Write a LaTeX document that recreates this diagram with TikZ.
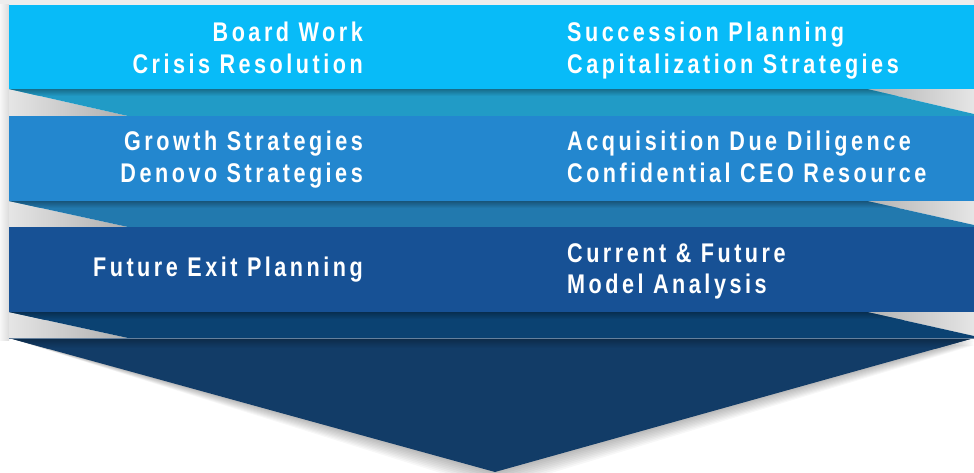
\documentclass[tikz,border=0pt]{standalone}
\usepackage{xcolor}
\usepackage{fontspec}
\usepackage{tikz}
\setmainfont{Liberation Sans}
\newfontfamily\bandfont[FakeStretch=0.8,LetterSpace=13]{Liberation Sans}

\definecolor{bandA}{HTML}{08BBF8}
\definecolor{foldA}{HTML}{219BC6}
\definecolor{bandB}{HTML}{2387CF}
\definecolor{foldB}{HTML}{2279AE}
\definecolor{bandC}{HTML}{175195}
\definecolor{foldC}{HTML}{0B4272}
\definecolor{arrowD}{HTML}{123C67}

\tikzset{
  bandtext/.style={inner sep=0pt, text=white,
    font=\bandfont\bfseries\fontsize{27}{31.5}\selectfont},
  lefttext/.style={bandtext, anchor=north east, align=right},
  righttext/.style={bandtext, anchor=north west, align=left},
  greyshade/.style={left color=black!10, right color=black!32}
}

\begin{document}
\begin{tikzpicture}[x=1pt,y=-1pt]
  \fill[white] (0,0) rectangle (974,473);
  \useasboundingbox (0,0) rectangle (974,473);

  % Background shadows
  \fill[black!7] (0,0) rectangle (974,5);
  \shade[left color=black!3, right color=black!14] (0,5) rectangle (9,340);
  \foreach \ya/\yb in {89/116, 201/227, 312/338} {
    \shade[greyshade] (9,\ya) -- (128,\yb) -- (9,\yb) -- cycle;
    \shade[right color=black!10, left color=black!30] (867,\ya) -- (974,\ya) -- (974,\yb-2) -- cycle;
  }

  % Folds
  \foreach \ya/\yb/\c in {89/116/foldA, 201/227/foldB, 312/338/foldC} {
    \begin{scope}
      \clip (9,\ya) -- (867,\ya) -- (974,\yb-2) -- (974,\yb) -- (128,\yb) -- cycle;
      \fill[\c] (0,\ya) rectangle (974,\yb);
      \shade[top color=\c!70!black, bottom color=\c] (0,\ya) rectangle (974,\ya+7);
    \end{scope}
  }

  % Bands
  \fill[bandA] (9,5) rectangle (974,89);
  \fill[bandB] (9,116) rectangle (974,201);
  \fill[bandC] (9,227) rectangle (974,312);

  % Arrow
  \foreach \d in {2,4,...,18}
    \fill[black, opacity=0.03] (9,338) -- (974,338+\d*0.4) -- (495,472+\d) -- cycle;
  \begin{scope}
    \clip (9,338) -- (974,338) -- (495,472) -- cycle;
    \fill[arrowD] (0,338) rectangle (974,473);
    \shade[top color=arrowD!70!black, bottom color=arrowD] (0,338) rectangle (974,348);
  \end{scope}
  \draw[arrowD!65!white, line width=0.6pt] (9,338) -- (974,338);

  % Texts
  \node[lefttext] (board) at (363,22) {Board Work\\Crisis Resolution};
  \node[righttext] (succession) at (567,22) {Succession Planning\\Capitalization Strategies};
  \node[lefttext] (growth) at (363,131) {Growth Strategies\\Denovo Strategies};
  \node[righttext] (acquisition) at (567,131) {Acquisition Due Diligence\\Confidential CEO Resource};
  \node[lefttext] (exit) at (363,257) {Future Exit Planning};
  \node[righttext] (model) at (567,243) {Current \& Future\\Model Analysis};
\end{tikzpicture}
\end{document}
